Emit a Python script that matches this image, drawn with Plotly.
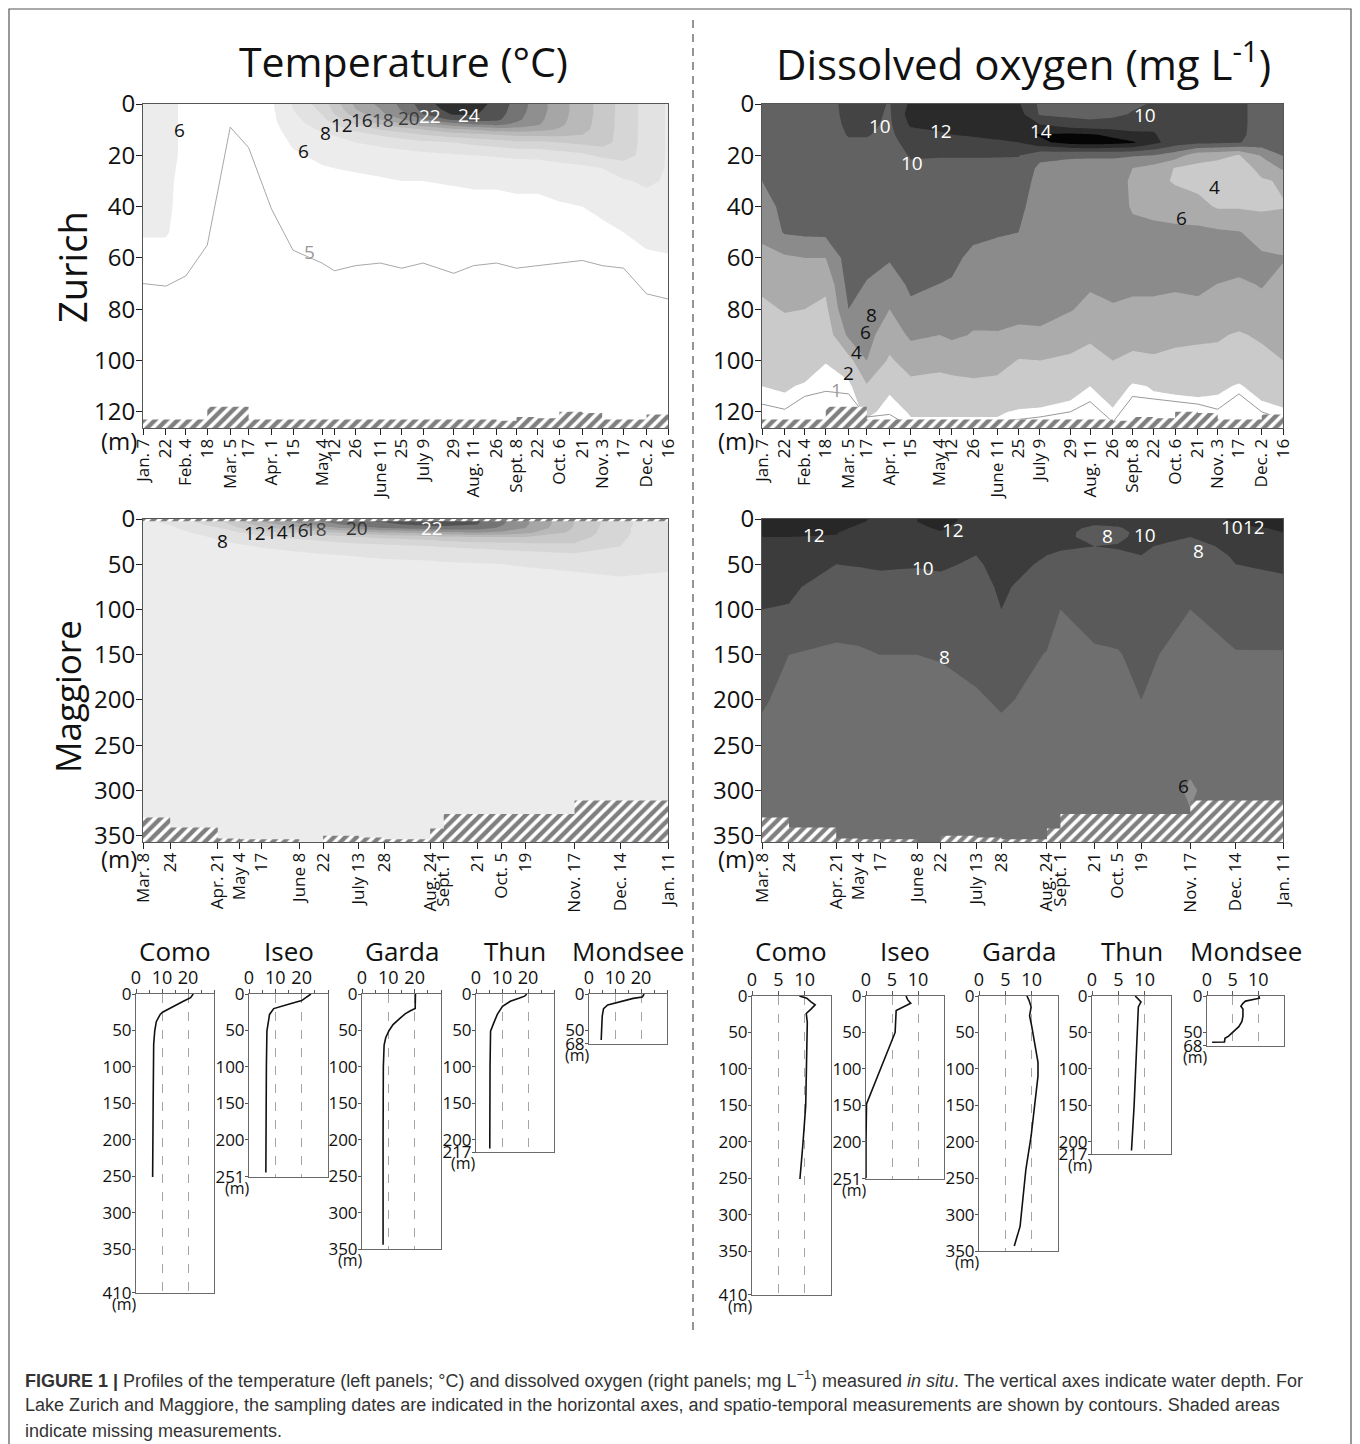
import numpy as np
import plotly.graph_objects as go

# ====================== DATA ======================
# ---- Lake Zurich (day of year of each sampling) ----
zurich_days = [7, 22, 35, 49, 64, 76, 91, 105, 124, 132, 146, 162, 176, 190, 210,
               223, 238, 251, 265, 279, 294, 307, 321, 336, 350]
zurich_labels = ["Jan. 7", "22", "Feb. 4", "18", "Mar. 5", "17", "Apr. 1", "15", "May 4",
                 "12", "26", "June 11", "25", "July 9", "29", "Aug. 11", "26", "Sept. 8",
                 "22", "Oct. 6", "21", "Nov. 3", "17", "Dec. 2", "16"]
zurich_bottom = 126.3
zurich_yticks = [0, 20, 40, 60, 80, 100, 120]

zurich_temp_depths = [0, 2, 4, 6, 8, 10, 12, 15, 20, 25, 30, 40, 50, 60, 80, 126]
zurich_temp = [
    [6.3, 6.3, 6.3, 6.3, 6.3, 6.3, 6.3, 6.3, 6.3, 6.3, 6.3, 6.2, 6.1, 5.6, 5.0, 4.8],
    [6.3, 6.3, 6.3, 6.3, 6.3, 6.3, 6.3, 6.3, 6.3, 6.3, 6.2, 6.2, 6.1, 5.6, 5.0, 4.8],
    [5.8, 5.8, 5.8, 5.8, 5.8, 5.8, 5.8, 5.8, 5.8, 5.7, 5.7, 5.6, 5.5, 5.3, 5.0, 4.8],
    [5.4, 5.4, 5.4, 5.4, 5.4, 5.4, 5.4, 5.4, 5.4, 5.4, 5.4, 5.3, 5.2, 5.1, 4.9, 4.7],
    [5.1, 5.1, 5.1, 5.1, 5.0, 5.0, 5.0, 5.0, 4.9, 4.9, 4.9, 4.9, 4.8, 4.8, 4.7, 4.6],
    [5.4, 5.4, 5.3, 5.3, 5.3, 5.2, 5.2, 5.1, 5.1, 5.0, 5.0, 4.9, 4.9, 4.8, 4.7, 4.6],
    [5.7, 5.7, 5.6, 5.6, 5.5, 5.4, 5.3, 5.2, 5.1, 5.1, 5.0, 5.0, 4.9, 4.8, 4.7, 4.6],
    [8.2, 8.0, 7.7, 7.4, 7.1, 6.8, 6.5, 6.2, 5.8, 5.5, 5.3, 5.1, 5.0, 4.9, 4.7, 4.6],
    [11.0, 10.5, 10.0, 9.5, 9.0, 8.3, 7.6, 7.0, 6.3, 5.9, 5.6, 5.3, 5.1, 5.0, 4.8, 4.6],
    [13.0, 12.5, 12.0, 11.0, 10.0, 9.0, 8.1, 7.3, 6.5, 6.0, 5.7, 5.3, 5.1, 5.0, 4.8, 4.6],
    [16.5, 16.0, 15.0, 13.5, 12.0, 10.5, 9.1, 8.0, 6.8, 6.1, 5.8, 5.4, 5.2, 5.0, 4.8, 4.6],
    [18.5, 18.0, 17.5, 16.0, 14.0, 12.0, 10.2, 8.5, 7.0, 6.2, 5.9, 5.5, 5.2, 5.0, 4.8, 4.6],
    [20.5, 20.2, 19.5, 18.0, 15.5, 13.0, 11.0, 9.0, 7.2, 6.3, 6.0, 5.5, 5.2, 5.0, 4.8, 4.6],
    [23.0, 22.6, 22.0, 20.0, 17.0, 14.0, 12.0, 9.5, 7.5, 6.4, 6.0, 5.5, 5.2, 5.0, 4.8, 4.6],
    [25.5, 25.0, 24.2, 22.5, 19.0, 15.5, 13.0, 10.0, 7.8, 6.6, 6.1, 5.6, 5.3, 5.0, 4.8, 4.6],
    [24.8, 24.5, 24.2, 23.0, 20.0, 16.0, 13.5, 10.5, 8.0, 6.7, 6.2, 5.6, 5.3, 5.0, 4.8, 4.6],
    [23.5, 23.3, 23.0, 22.5, 20.5, 17.0, 14.0, 11.0, 8.2, 6.8, 6.2, 5.6, 5.3, 5.0, 4.8, 4.6],
    [21.2, 21.0, 20.8, 20.5, 19.5, 17.0, 14.5, 11.5, 8.4, 7.0, 6.3, 5.7, 5.3, 5.0, 4.8, 4.6],
    [19.0, 19.0, 18.8, 18.6, 18.2, 16.5, 14.5, 11.5, 8.5, 7.0, 6.3, 5.7, 5.3, 5.0, 4.8, 4.6],
    [16.8, 16.8, 16.7, 16.6, 16.4, 15.8, 14.5, 12.0, 9.0, 7.2, 6.4, 5.9, 5.4, 5.1, 4.8, 4.6],
    [15.0, 15.0, 15.0, 14.9, 14.8, 14.6, 14.0, 12.5, 9.5, 7.5, 6.6, 6.0, 5.5, 5.1, 4.8, 4.6],
    [13.2, 13.2, 13.2, 13.1, 13.1, 13.0, 13.0, 12.8, 10.5, 8.0, 7.0, 6.3, 5.7, 5.2, 4.9, 4.6],
    [11.2, 11.2, 11.2, 11.2, 11.2, 11.2, 11.1, 11.1, 10.8, 9.0, 7.8, 6.6, 6.0, 5.6, 5.0, 4.7],
    [9.3, 9.3, 9.3, 9.3, 9.3, 9.3, 9.3, 9.3, 9.3, 9.0, 8.3, 7.2, 6.4, 5.8, 5.2, 4.8],
    [7.8, 7.8, 7.8, 7.8, 7.8, 7.8, 7.8, 7.8, 7.8, 7.8, 7.8, 7.2, 6.5, 5.9, 5.3, 4.8],
]
# depth of the 5 degC isotherm (grey line)
zurich_5c_depth = [70, 71, 67, 55, 9, 17, 41, 57, 62, 65, 63, 62, 64, 62, 66, 63, 62, 64,
                   63, 62, 61, 63, 64, 74, 76]

zurich_do_depths = [0, 4, 8, 12, 15, 20, 25, 30, 40, 50, 60, 70, 80, 90, 100, 110, 120, 126]
zurich_do = [
    [9.6, 9.5, 9.4, 9.3, 9.2, 9.0, 8.6, 8.0, 7.2, 6.4, 5.5, 4.3, 3.7, 3.0, 2.6, 2.0, 1.6, 1.4],
    [9.5, 9.4, 9.3, 9.2, 9.1, 9.0, 8.9, 8.8, 8.5, 8.2, 5.7, 4.8, 4.1, 3.4, 2.8, 2.1, 1.7, 1.5],
    [9.4, 9.3, 9.2, 9.1, 9.1, 9.0, 8.9, 8.8, 8.6, 8.4, 6.0, 4.9, 4.0, 3.3, 2.6, 1.9, 1.6, 1.5],
    [9.5, 9.4, 9.3, 9.2, 9.2, 9.1, 9.0, 8.9, 8.7, 8.5, 6.0, 4.4, 3.6, 2.8, 2.05, 1.6, 1.4, 1.3],
    [10.4, 10.4, 10.3, 10.1, 9.8, 9.6, 9.5, 9.4, 9.3, 9.2, 9.0, 8.7, 8.0, 6.4, 3.3, 1.6, 1.3, 1.2],
    [10.6, 10.5, 10.4, 10.1, 9.8, 9.6, 9.5, 9.4, 9.2, 9.0, 8.6, 7.9, 7.3, 6.6, 6.0, 3.8, 2.3, 1.6],
    [9.9, 9.8, 9.7, 9.6, 9.5, 9.4, 9.3, 9.2, 9.0, 8.6, 8.2, 7.0, 6.0, 5.0, 3.7, 2.2, 1.6, 1.4],
    [12.4, 12.9, 12.3, 11.2, 10.6, 10.1, 9.8, 9.6, 9.3, 9.0, 8.7, 8.4, 7.6, 6.3, 5.0, 3.4, 2.1, 1.8],
    [12.8, 13.2, 12.8, 11.6, 10.9, 10.1, 9.6, 9.3, 9.0, 8.7, 8.4, 8.0, 7.0, 6.0, 4.6, 3.3, 2.1, 1.8],
    [13.0, 13.3, 13.0, 12.0, 11.0, 10.1, 9.6, 9.3, 9.0, 8.6, 8.3, 7.9, 7.1, 6.3, 4.8, 3.4, 2.1, 1.8],
    [13.2, 13.5, 13.2, 12.3, 11.2, 10.1, 9.6, 9.2, 8.8, 8.3, 7.7, 7.1, 6.5, 5.9, 4.9, 3.6, 2.1, 1.8],
    [12.8, 13.3, 13.5, 12.8, 11.5, 10.1, 9.5, 9.1, 8.6, 8.1, 7.6, 7.1, 6.6, 5.9, 4.8, 3.4, 2.1, 1.8],
    [12.2, 12.8, 13.5, 13.5, 12.0, 10.1, 9.3, 8.9, 8.4, 8.0, 7.5, 7.0, 6.6, 5.6, 3.9, 2.9, 1.9, 1.6],
    [9.6, 9.8, 12.0, 14.2, 13.5, 8.5, 7.6, 7.4, 7.2, 7.0, 6.8, 6.6, 6.4, 5.8, 4.0, 3.0, 1.8, 1.5],
    [9.3, 9.6, 10.8, 14.5, 14.8, 8.2, 7.5, 7.3, 7.1, 6.9, 6.7, 6.4, 6.1, 5.1, 3.6, 2.5, 1.6, 1.4],
    [9.2, 9.5, 10.5, 14.3, 15.0, 8.2, 7.4, 7.2, 7.0, 6.8, 6.5, 6.2, 5.6, 4.4, 3.2, 2.0, 1.5, 1.3],
    [9.5, 9.7, 10.6, 13.5, 14.8, 8.2, 7.4, 7.2, 7.0, 6.8, 6.6, 6.3, 5.9, 5.0, 4.0, 3.0, 1.8, 1.5],
    [9.8, 10.1, 11.0, 12.5, 14.3, 8.2, 6.0, 5.6, 5.8, 6.5, 6.6, 6.2, 5.8, 4.5, 3.7, 1.8, 1.5, 1.3],
    [10.1, 10.3, 11.5, 12.2, 12.5, 8.0, 5.2, 4.6, 5.3, 6.6, 6.7, 6.4, 5.6, 4.6, 3.8, 2.1, 1.6, 1.4],
    [10.3, 10.3, 10.4, 10.6, 11.0, 7.0, 3.9, 3.8, 5.0, 6.5, 6.7, 6.2, 5.6, 4.4, 3.6, 2.2, 1.6, 1.4],
    [10.4, 10.4, 10.4, 10.6, 10.5, 4.8, 3.5, 3.4, 4.6, 6.5, 6.8, 6.3, 5.7, 4.3, 3.5, 2.3, 1.6, 1.4],
    [10.4, 10.4, 10.4, 10.4, 10.3, 4.5, 3.2, 3.0, 3.8, 6.3, 6.6, 6.0, 5.4, 4.2, 3.5, 2.2, 1.6, 1.4],
    [10.3, 10.3, 10.3, 10.3, 10.1, 3.9, 3.0, 2.8, 3.8, 6.1, 6.6, 5.8, 5.2, 3.8, 2.9, 1.9, 1.5, 1.3],
    [9.5, 9.5, 9.5, 9.4, 9.2, 6.2, 4.6, 3.8, 3.7, 5.2, 6.3, 6.1, 5.6, 4.3, 3.4, 2.4, 1.7, 1.5],
    [9.2, 9.2, 9.2, 9.1, 8.9, 8.1, 6.3, 4.2, 3.9, 5.1, 6.1, 5.6, 5.0, 4.5, 4.0, 3.0, 1.8, 1.6],
]
# depth of the 1 mg/L isopleth (grey line)
zurich_do_1mg_depth = [117, 119, 114, 112, 113, 122, 121, 126, 126, 126, 125, 124, 123, 122,
                       120, 116, 124, 114, 115, 116, 117, 119, 113, 120, 123]
# deepest measured depth on each date (hatched below)
zurich_max_sampled = [123, 123, 123, 118, 118, 123, 123, 123, 123, 123, 123, 123, 123, 123,
                      123, 123, 123.5, 122, 122.5, 120, 120.5, 123, 123, 121, 121]

# ---- Lake Maggiore (days since Mar. 8) ----
maggiore_days = [0, 16, 44, 57, 70, 92, 106, 127, 142, 169, 177, 197, 211, 225, 254, 281, 309]
maggiore_labels = ["Mar. 8", "24", "Apr. 21", "May 4", "17", "June 8", "22", "July 13", "28",
                   "Aug. 24", "Sept. 1", "21", "Oct. 5", "19", "Nov. 17", "Dec. 14", "Jan. 11"]
maggiore_bottom = 357
maggiore_yticks = [0, 50, 100, 150, 200, 250, 300, 350]
maggiore_depths = [0, 3, 6, 10, 15, 20, 30, 40, 50, 75, 100, 150, 200, 250, 300, 357]
maggiore_temp = [
    [7.6, 7.5, 7.4, 7.3, 7.2, 7.1, 7.0, 6.9, 6.8, 6.7, 6.6, 6.5, 6.5, 6.4, 6.4, 6.3],
    [8.8, 8.5, 8.1, 7.7, 7.4, 7.2, 7.0, 6.9, 6.8, 6.7, 6.6, 6.5, 6.5, 6.4, 6.4, 6.3],
    [12.0, 11.5, 10.8, 9.8, 8.8, 8.2, 7.5, 7.2, 7.0, 6.8, 6.7, 6.6, 6.5, 6.4, 6.4, 6.3],
    [14.0, 13.6, 13.0, 12.0, 10.0, 8.8, 7.8, 7.3, 7.1, 6.9, 6.7, 6.6, 6.5, 6.4, 6.4, 6.3],
    [16.5, 16.0, 15.0, 13.5, 11.5, 9.5, 8.1, 7.5, 7.2, 6.9, 6.7, 6.6, 6.5, 6.4, 6.4, 6.3],
    [19.0, 18.6, 17.5, 15.5, 12.5, 10.5, 8.5, 7.7, 7.3, 7.0, 6.8, 6.6, 6.5, 6.4, 6.4, 6.3],
    [20.5, 20.0, 19.0, 17.0, 13.5, 11.0, 8.8, 7.9, 7.4, 7.0, 6.8, 6.6, 6.5, 6.4, 6.4, 6.3],
    [22.0, 21.7, 21.0, 19.0, 15.0, 12.0, 9.2, 8.1, 7.5, 7.1, 6.8, 6.6, 6.5, 6.4, 6.4, 6.3],
    [22.3, 22.1, 21.6, 20.0, 16.0, 12.5, 9.5, 8.3, 7.6, 7.1, 6.8, 6.6, 6.5, 6.4, 6.4, 6.3],
    [23.3, 23.1, 22.7, 21.0, 17.0, 13.0, 10.0, 8.5, 7.7, 7.1, 6.8, 6.6, 6.5, 6.4, 6.4, 6.3],
    [23.2, 23.0, 22.6, 21.2, 17.5, 13.5, 10.2, 8.6, 7.8, 7.2, 6.8, 6.6, 6.5, 6.4, 6.4, 6.3],
    [22.4, 22.2, 22.0, 21.0, 18.0, 14.0, 10.5, 8.8, 7.9, 7.2, 6.8, 6.6, 6.5, 6.4, 6.4, 6.3],
    [20.5, 20.4, 20.2, 19.6, 17.5, 14.0, 10.8, 9.0, 8.0, 7.2, 6.8, 6.6, 6.5, 6.4, 6.4, 6.3],
    [18.5, 18.4, 18.3, 18.0, 16.5, 14.0, 11.0, 9.2, 8.1, 7.3, 6.9, 6.6, 6.5, 6.4, 6.4, 6.3],
    [14.0, 14.0, 13.9, 13.8, 13.5, 13.0, 11.5, 9.6, 8.3, 7.4, 6.9, 6.6, 6.5, 6.4, 6.4, 6.3],
    [10.5, 10.5, 10.5, 10.4, 10.4, 10.3, 10.0, 9.5, 8.6, 7.5, 7.0, 6.7, 6.5, 6.4, 6.4, 6.3],
    [8.6, 8.6, 8.6, 8.6, 8.6, 8.5, 8.5, 8.4, 8.2, 7.6, 7.1, 6.7, 6.5, 6.4, 6.4, 6.3],
]
maggiore_do = [
    [12.6, 12.6, 12.5, 12.5, 12.3, 12.0, 11.5, 11.0, 10.8, 10.4, 10.0, 9.0, 8.2, 7.5, 7.2, 7.0],
    [12.7, 12.6, 12.5, 12.4, 12.2, 12.0, 11.4, 11.0, 10.7, 10.3, 9.9, 8.0, 7.5, 7.3, 7.1, 7.0],
    [12.8, 12.7, 12.5, 12.3, 12.1, 11.9, 11.0, 10.5, 10.0, 9.2, 8.8, 7.7, 7.4, 7.2, 7.1, 7.0],
    [12.2, 12.1, 12.0, 11.8, 11.3, 11.0, 10.6, 10.3, 10.1, 9.3, 8.8, 7.8, 7.4, 7.2, 7.1, 7.0],
    [11.8, 11.8, 11.7, 11.5, 11.2, 11.0, 10.6, 10.4, 10.2, 9.5, 9.0, 8.0, 7.5, 7.2, 7.1, 7.0],
    [12.0, 12.0, 11.9, 11.7, 11.3, 11.0, 10.6, 10.3, 10.1, 9.5, 9.0, 8.0, 7.5, 7.2, 7.1, 7.0],
    [12.5, 12.4, 12.3, 12.2, 11.9, 11.5, 10.8, 10.4, 10.2, 9.6, 9.1, 8.1, 7.5, 7.2, 7.1, 7.0],
    [11.5, 11.5, 11.4, 11.2, 11.0, 10.8, 10.4, 10.0, 9.8, 9.5, 9.2, 8.5, 7.8, 7.3, 7.1, 7.0],
    [11.6, 11.6, 11.5, 11.3, 11.1, 11.0, 10.8, 10.6, 10.5, 10.2, 10.0, 9.0, 8.2, 7.5, 7.2, 7.0],
    [11.0, 11.0, 10.9, 10.8, 10.7, 10.6, 10.3, 10.0, 9.8, 9.3, 8.9, 7.9, 7.5, 7.2, 7.1, 7.0],
    [10.8, 10.8, 10.8, 10.7, 10.6, 10.5, 10.2, 9.8, 9.5, 8.8, 8.0, 7.6, 7.4, 7.2, 7.1, 7.0],
    [10.5, 10.3, 10.1, 9.6, 9.3, 9.4, 10.0, 9.6, 9.3, 9.0, 8.6, 7.8, 7.5, 7.2, 7.1, 7.0],
    [10.6, 10.5, 10.3, 9.8, 9.5, 9.7, 10.1, 9.8, 9.5, 9.1, 8.7, 7.9, 7.6, 7.3, 7.1, 7.0],
    [11.0, 11.0, 10.9, 10.7, 10.5, 10.4, 10.2, 10.0, 9.8, 9.4, 9.0, 8.4, 8.0, 7.5, 7.2, 7.0],
    [11.3, 11.2, 11.0, 10.6, 10.3, 10.0, 9.4, 9.0, 8.9, 8.5, 8.0, 7.3, 7.0, 6.6, 5.8, 6.4],
    [12.2, 12.1, 12.0, 11.6, 11.2, 10.9, 10.5, 10.2, 10.0, 9.3, 8.8, 7.9, 7.6, 7.3, 7.1, 7.0],
    [12.6, 12.5, 12.4, 12.2, 12.0, 11.9, 11.2, 10.6, 10.3, 9.6, 8.9, 7.9, 7.6, 7.3, 7.1, 7.0],
]
maggiore_max_sampled = [330, 341, 353, 354, 354, 357, 350, 352, 354, 342, 326, 326, 326,
                        326, 311, 311, 311]
maggiore_temp_top_gap = 2.5  # shallowest measured temperature depth (m)

# ---- Single profiles of the other lakes ----
lake_names = ["Como", "Iseo", "Garda", "Thun", "Mondsee"]
lake_max_depth = [410, 251, 350, 217, 68]

como_temp_depth = [0, 5, 10, 15, 20, 25, 28, 38, 51, 69, 150, 251]
como_temp = [22.0, 21.0, 18.2, 15.5, 12.8, 10.2, 9.3, 7.8, 7.2, 6.8, 6.6, 6.4]
iseo_temp_depth = [0, 4, 9, 14, 20, 28, 51, 100, 245]
iseo_temp = [23.5, 22.0, 20.0, 15.0, 9.4, 7.8, 6.8, 6.6, 6.4]
garda_temp_depth = [0, 10, 20, 23, 27, 33, 42, 50, 60, 70, 100, 200, 344]
garda_temp = [20.3, 20.3, 20.2, 18.4, 16.5, 14.5, 11.8, 10.3, 9.0, 8.4, 8.1, 8.0, 8.0]
thun_temp_depth = [0, 3, 6, 10, 17, 28, 40, 51, 100, 212]
thun_temp = [19.5, 18.7, 16.5, 13.2, 10.2, 8.2, 6.8, 5.6, 5.4, 5.3]
mondsee_temp_depth = [0, 4, 6, 9, 12, 15, 20, 30, 45, 63]
mondsee_temp = [21.2, 20.5, 17.0, 13.5, 10.5, 7.2, 5.6, 5.1, 4.9, 4.7]

como_do_depth = [0, 3, 8, 12, 18, 24, 36, 100, 150, 200, 251]
como_do = [9.0, 10.4, 11.2, 12.0, 11.2, 10.3, 10.5, 10.4, 10.2, 9.7, 9.1]
iseo_do_depth = [0, 5, 10, 20, 50, 75, 100, 125, 148, 200, 250]
iseo_do = [7.7, 8.0, 8.6, 5.8, 5.6, 4.2, 2.8, 1.4, 0.1, 0.0, 0.0]
garda_do_depth = [0, 6, 15, 27, 41, 64, 91, 110, 146, 192, 238, 316, 343]
garda_do = [9.1, 9.5, 9.9, 9.6, 10.0, 10.6, 11.2, 11.2, 10.6, 9.9, 8.9, 7.8, 6.7]
thun_do_depth = [0, 8, 15, 50, 100, 150, 212]
thun_do = [8.2, 9.3, 8.8, 8.6, 8.4, 8.0, 7.5]
mondsee_do_depth = [0, 3, 7, 10, 14, 18, 28, 35, 42, 46, 50, 55, 58, 63, 63.5]
mondsee_do = [10.1, 10.2, 7.5, 7.0, 6.6, 7.0, 7.0, 6.8, 6.2, 5.6, 5.1, 4.2, 3.5, 3.4, 1.0]

small_temp = [(como_temp_depth, como_temp), (iseo_temp_depth, iseo_temp),
              (garda_temp_depth, garda_temp), (thun_temp_depth, thun_temp),
              (mondsee_temp_depth, mondsee_temp)]
small_do = [(como_do_depth, como_do), (iseo_do_depth, iseo_do),
            (garda_do_depth, garda_do), (thun_do_depth, thun_do),
            (mondsee_do_depth, mondsee_do)]

# ====================== STYLE / LAYOUT ======================
W, H = 1360, 1444
OFF = 8  # the page draws the figure 8 px in from the top-left corner
FONT = "Open Sans, Noto Sans, DejaVu Sans, sans-serif"
CAP_FONT = "Liberation Sans Narrow, Liberation Sans, Arial, sans-serif"

TEMP_COLORS = ["#ffffff", "#ececec", "#e2e2e2", "#d6d6d6", "#c9c9c9", "#b9b9b9",
               "#a6a6a6", "#8f8f8f", "#747474", "#525252", "#2e2e2e"]
ZDO_COLORS = ["#ffffff", "#cacaca", "#ababab", "#8b8b8b", "#626262", "#444444",
              "#2a2a2a", "#050505"]
MDO_COLORS = ["#8d8d8d", "#6f6f6f", "#5a5a5a", "#3c3c3c", "#272727"]


def fx(p):
    return (p - OFF) / W


def fy(p):
    return 1 - (p - OFF) / H


fig = go.Figure()
layout_axes = {}
annotations = []
shapes = []
counter = [0]


def new_axes(box, xopts, yopts):
    x0, x1, y0, y1 = box
    counter[0] += 1
    n = counter[0]
    s = '' if n == 1 else str(n)
    layout_axes['xaxis' + s] = dict(domain=[fx(x0), fx(x1)], anchor='y' + s,
                                    automargin=False, **xopts)
    layout_axes['yaxis' + s] = dict(domain=[fy(y1), fy(y0)], anchor='x' + s,
                                    automargin=False, **yopts)
    return 'x' + s, 'y' + s


def big_axes(box, days, labels, bottom, yticks):
    xo = dict(range=[days[0], days[-1]], tickmode='array', tickvals=days, ticktext=labels,
              tickangle=-90, ticks='outside', ticklen=6, tickcolor='#222',
              ticklabelstandoff=-3,
              tickfont=dict(family=FONT, size=17, color='#111'), showline=True,
              linecolor='#555', linewidth=1, mirror=True, showgrid=False, zeroline=False)
    yo = dict(range=[bottom, 0], tickmode='array', tickvals=yticks, ticks='outside',
              ticklen=6, tickcolor='#222', ticklabelstandoff=-4,
              tickfont=dict(family=FONT, size=24, color='#111'),
              showline=True, linecolor='#555', linewidth=1, mirror=True, showgrid=False,
              zeroline=False)
    return new_axes(box, xo, yo)


def contour(xr, yr, days, depths, profiles, start, end, size, colors):
    n = len(colors) - 1
    scale = [[i / n, c] for i, c in enumerate(colors)]
    fig.add_trace(go.Contour(
        x=days, y=depths, z=np.array(profiles, dtype=float).T, xaxis=xr, yaxis=yr,
        colorscale=scale, autocontour=False,
        contours=dict(start=start, end=end, size=size, coloring='fill', showlines=False),
        line=dict(width=0, smoothing=0), showscale=False, hoverinfo='skip'))


def hatch(xr, yr, xs, ys):
    fig.add_trace(go.Scatter(
        x=xs, y=ys, mode='lines', line=dict(width=0, shape='hv', color='black'),
        fill='toself', fillcolor='white',
        fillpattern=dict(shape='/', fgcolor='#000', bgcolor='white', size=8, solidity=0.55),
        hoverinfo='skip', showlegend=False, xaxis=xr, yaxis=yr))


def bottom_hatch(xr, yr, days, tops, bottom):
    hatch(xr, yr, [days[0]] + list(days) + [days[-1]], [bottom] + list(tops) + [bottom])


def grey_line(xr, yr, xs, ys, color):
    fig.add_trace(go.Scatter(x=xs, y=ys, mode='lines', line=dict(color=color, width=1),
                             hoverinfo='skip', showlegend=False, xaxis=xr, yaxis=yr))


def label(xr, yr, text, x, y, color='#111', size=19):
    annotations.append(dict(xref=xr, yref=yr, x=x, y=y, text=text, showarrow=False,
                            font=dict(family=FONT, size=size, color=color)))


def paper_text(text, x, y, size, color='#111', angle=0, xanchor='center', family=FONT):
    annotations.append(dict(xref='paper', yref='paper', x=fx(x), y=fy(y), text=text,
                            showarrow=False, textangle=angle, xanchor=xanchor,
                            yanchor='middle', font=dict(family=family, size=size, color=color)))


# ---------- Zurich temperature ----------
xr, yr = big_axes((143, 668, 104, 428), zurich_days, zurich_labels, zurich_bottom, zurich_yticks)
contour(xr, yr, zurich_days, zurich_temp_depths, zurich_temp, 6, 24, 2, TEMP_COLORS)
grey_line(xr, yr, zurich_days, zurich_5c_depth, '#a8a8a8')
bottom_hatch(xr, yr, zurich_days, zurich_max_sampled, zurich_bottom)
for t, d, z, c in [("6", 31, 10, '#111'), ("8", 126, 11.3, '#111'), ("12", 137, 8.2, '#111'),
                   ("16", 150, 6.2, '#222'), ("18", 164, 6.2, '#444'), ("20", 181, 5.5, '#3a3a3a'),
                   ("22", 194.5, 4.7, 'white'), ("24", 220, 4.3, 'white'),
                   ("6", 112, 18.3, '#111'), ("5", 116, 57.7, '#9a9a9a')]:
    label(xr, yr, t, d, z, c)

# ---------- Zurich dissolved oxygen ----------
xr, yr = big_axes((762, 1283, 104, 428), zurich_days, zurich_labels, zurich_bottom, zurich_yticks)
contour(xr, yr, zurich_days, zurich_do_depths, zurich_do, 2, 14, 2, ZDO_COLORS)
grey_line(xr, yr, zurich_days, zurich_do_1mg_depth, '#9a9a9a')
bottom_hatch(xr, yr, zurich_days, zurich_max_sampled, zurich_bottom)
for t, d, z, c in [("10", 85, 8.6, 'white'), ("12", 125, 10.5, 'white'), ("10", 106, 23, 'white'),
                   ("14", 191, 10.5, 'white'), ("10", 259, 4.3, 'white'), ("4", 305, 32.4, '#111'),
                   ("6", 283, 44.5, '#111'), ("8", 79, 82.3, '#111'), ("6", 75, 89, '#111'),
                   ("4", 69.5, 96.7, '#111'), ("2", 64, 105, '#111'), ("1", 56, 111.5, '#9a9a9a')]:
    label(xr, yr, t, d, z, c)

# ---------- Maggiore temperature ----------
xr, yr = big_axes((143, 668, 519, 842), maggiore_days, maggiore_labels, maggiore_bottom,
                  maggiore_yticks)
contour(xr, yr, maggiore_days, maggiore_depths, maggiore_temp, 6, 24, 2, TEMP_COLORS)
bottom_hatch(xr, yr, maggiore_days, maggiore_max_sampled, maggiore_bottom)
hatch(xr, yr, [maggiore_days[0], maggiore_days[-1], maggiore_days[-1], maggiore_days[0]],
      [0, 0, maggiore_temp_top_gap, maggiore_temp_top_gap])
for t, d, z, c in [("8", 47, 24, '#111'), ("12", 66, 15.5, '#111'), ("14", 79, 14.4, '#111'),
                   ("16", 91, 12, '#222'), ("18", 102, 11, '#444'), ("20", 126, 10, '#333'),
                   ("22", 170, 10, 'white')]:
    label(xr, yr, t, d, z, c)

# ---------- Maggiore dissolved oxygen ----------
xr, yr = big_axes((762, 1283, 519, 842), maggiore_days, maggiore_labels, maggiore_bottom,
                  maggiore_yticks)
contour(xr, yr, maggiore_days, maggiore_depths, maggiore_do, 6, 12, 2, MDO_COLORS)
bottom_hatch(xr, yr, maggiore_days, maggiore_max_sampled, maggiore_bottom)
for t, d, z, c in [("12", 31, 17.7, 'white'), ("12", 113, 12, 'white'), ("10", 95.5, 54, 'white'),
                   ("8", 205, 19, 'white'), ("10", 227, 17.7, 'white'), ("8", 259, 35, 'white'),
                   ("10", 279, 9, 'white'), ("12", 292, 9, 'white'), ("8", 108.5, 153, 'white'),
                   ("6", 250, 295, '#111')]:
    label(xr, yr, t, d, z, c)

# ---------- small single-profile panels ----------
temp_boxes = [(136, 214), (249, 328), (362, 441), (476, 554), (589, 667)]
do_boxes = [(752, 831), (866, 944), (979, 1058), (1092, 1171), (1207, 1284)]
PX_PER_M = 0.729


def small_panel(xb, top, name, maxd, depth, vals, xmax, xticks, minor):
    bottom = top + maxd * PX_PER_M
    yt = [v for v in range(0, maxd, 50) if maxd - v >= 15 or v == 0]
    if maxd not in yt:
        yt.append(maxd)
    xo = dict(range=[0, xmax], side='top', tickmode='array', tickvals=xticks, ticks='outside',
              ticklen=4, tickcolor='#555', ticklabelstandoff=-2,
              tickfont=dict(family=FONT, size=18, color='#111'),
              showgrid=True, gridcolor='#a5a5a5', griddash='dash', gridwidth=1,
              showline=True, linecolor='#6a6a6a', linewidth=1, mirror=True, zeroline=False)
    if minor:
        xo['minor'] = dict(tickmode='linear', tick0=0, dtick=5, ticks='outside', ticklen=3,
                           tickcolor='#555', showgrid=False)
    yo = dict(range=[maxd, 0], tickmode='array', tickvals=yt, ticks='outside', ticklen=3,
              tickcolor='#555', ticklabelstandoff=-3,
              tickfont=dict(family=FONT, size=17, color='#111'),
              showline=True, linecolor='#6a6a6a', linewidth=1, mirror=True, showgrid=False,
              zeroline=False)
    xr, yr = new_axes((xb[0], xb[1], top, bottom), xo, yo)
    fig.add_trace(go.Scatter(x=vals, y=depth, mode='lines', line=dict(color='#111', width=1.6),
                             hoverinfo='skip', showlegend=False, xaxis=xr, yaxis=yr))
    paper_text("(m)", xb[0] - 12, bottom + 11, 16)
    paper_text(name, (xb[0] + xb[1]) / 2, 951, 26)


for i in range(5):
    d, v = small_temp[i]
    small_panel(temp_boxes[i], 994, lake_names[i], lake_max_depth[i], d, v, 30, [0, 10, 20], True)
for i in range(5):
    d, v = small_do[i]
    small_panel(do_boxes[i], 996, lake_names[i], lake_max_depth[i], d, v, 15, [0, 5, 10], False)

# ---------- headings ----------
paper_text("Temperature (°C)", 403, 61, 41)
paper_text("Dissolved oxygen (mg L<sup>-1</sup>)", 1023, 61, 42)
paper_text("Zurich", 72, 267, 38, angle=-90)
paper_text("Maggiore", 67, 697, 35, angle=-90)
for x in (119, 736):
    paper_text("(m)", x, 440, 24)
    paper_text("(m)", x, 858, 24)

# ---------- caption ----------
cap = [
    "<b>FIGURE 1 |</b> Profiles of the temperature (left panels; °C) and dissolved oxygen "
    "(right panels; mg L<sup>−1</sup>) measured <i>in situ</i>. The vertical axes indicate "
    "water depth. For",
    "Lake Zurich and Maggiore, the sampling dates are indicated in the horizontal axes, and "
    "spatio-temporal measurements are shown by contours. Shaded areas",
    "indicate missing measurements.",
]
for i, line in enumerate(cap):
    paper_text(line, 23, 1379 + 26 * i, 18, color='#333', xanchor='left', family=CAP_FONT)

# ---------- frame + divider ----------
shapes.append(dict(type='rect', xref='paper', yref='paper', x0=fx(9), x1=fx(1351),
                   y0=-0.02, y1=fy(9), line=dict(color='#555', width=1.2)))
shapes.append(dict(type='line', xref='paper', yref='paper', x0=fx(693), x1=fx(693),
                   y0=fy(1330), y1=fy(16),
                   line=dict(color='#7a7a7a', width=1.6, dash='8px,6px')))

fig.update_layout(width=W, height=H, autosize=False,
                  margin=dict(l=0, r=0, t=0, b=0, pad=0, autoexpand=False),
                  paper_bgcolor='white', plot_bgcolor='white', showlegend=False,
                  annotations=annotations, shapes=shapes, **layout_axes)
fig.write_html("out.html")
